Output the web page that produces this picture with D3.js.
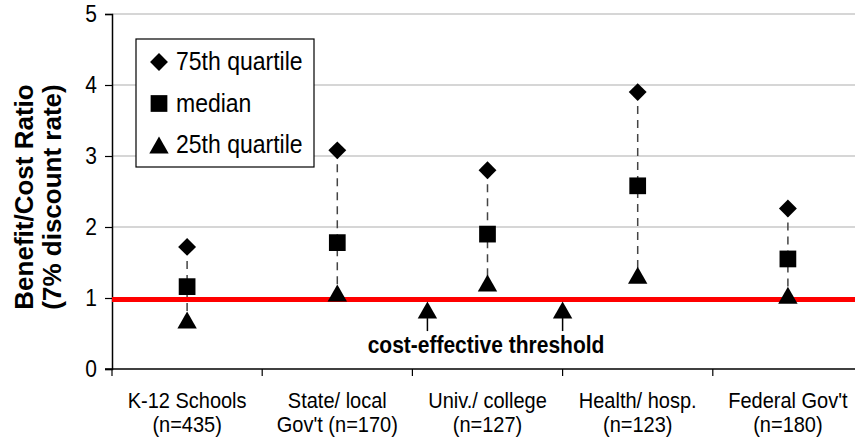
<!DOCTYPE html>
<html>
<head>
<meta charset="utf-8">
<script src="https://cdn.jsdelivr.net/npm/d3@7"></script>
<style>
  body { margin: 0; background: #fff; }
  text { font-family: "Liberation Sans", Arial, sans-serif; fill: #000; }
</style>
</head>
<body>
<div id="root"></div>
<script>
const categories = ["K-12 Schools", "State/ local", "Univ./ college", "Health/ hosp.", "Federal Gov't"];
const subLabels = ["(n=435)", "Gov't (n=170)", "(n=127)", "(n=123)", "(n=180)"];
const q75 = [1.72, 3.08, 2.80, 3.90, 2.26];
const median = [1.16, 1.78, 1.90, 2.58, 1.55];
const q25 = [0.69, 1.07, 1.21, 1.32, 1.04];
const yTicks = [0, 1, 2, 3, 4, 5];
const threshold = 0.98;
const arrowAt = [2.1, 3.0]; // in category units from the left
const arrowTip = 0.83;

const width = 855, height = 442;
const plotLeft = 112, plotRight = 863, plotTop = 14, plotBottom = 369;
const stretch = 1.13; // glyphs in the source are a little taller than Arial

const svg = d3.select("#root").append("svg")
    .attr("width", width)
    .attr("height", height);

const x = d3.scaleBand().domain(categories).range([plotLeft, plotRight]).padding(0);
const xi = d3.scaleLinear().domain([0, categories.length]).range([plotLeft, plotRight]);
const y = d3.scaleLinear().domain([0, 5]).range([plotBottom, plotTop]);

// gridlines
svg.append("g")
  .selectAll("line")
  .data(yTicks.filter(d => d > 0))
  .join("line")
    .attr("x1", plotLeft).attr("x2", width)
    .attr("y1", d => y(d)).attr("y2", d => y(d))
    .attr("stroke", "#c8c8c8")
    .attr("stroke-width", 1.5);

// y axis
const yAxis = svg.append("g")
    .attr("transform", `translate(${plotLeft},0)`)
    .call(d3.axisLeft(y).tickValues(yTicks).tickSize(7).tickPadding(8).tickFormat(d3.format("d")));
yAxis.select(".domain").attr("stroke", "#000").attr("stroke-width", 1.5);
yAxis.selectAll(".tick line").attr("stroke", "#000").attr("stroke-width", 1.2);
yAxis.selectAll("text")
    .attr("font-size", 21)
    .attr("font-family", "Liberation Sans, Arial, sans-serif")
    .attr("transform", `scale(1,${stretch})`);

// x axis
const xAxis = svg.append("g")
    .attr("transform", `translate(0,${plotBottom})`);
xAxis.append("line")
    .attr("x1", plotLeft - 7).attr("x2", width)
    .attr("stroke", "#000").attr("stroke-width", 1.5);
xAxis.selectAll(".xtick")
  .data(d3.range(categories.length + 1))
  .join("line")
    .attr("class", "xtick")
    .attr("x1", d => xi(d)).attr("x2", d => xi(d))
    .attr("y1", 0).attr("y2", 7)
    .attr("stroke", "#000").attr("stroke-width", 1.2);

const labels = svg.append("g").selectAll("text")
  .data(categories)
  .join("text")
    .attr("transform", d => `translate(${x(d) + x.bandwidth() / 2},408) scale(1,${stretch})`)
    .attr("text-anchor", "middle")
    .attr("font-size", 20);
labels.append("tspan").text(d => d);
labels.append("tspan")
    .attr("x", 0)
    .attr("dy", 24 / stretch)
    .text((d, i) => subLabels[i]);

// y title
svg.append("text")
    .attr("transform", "translate(33,197) rotate(-90)")
    .attr("text-anchor", "middle")
    .attr("font-size", 26)
    .attr("font-weight", "bold")
    .text("Benefit/Cost Ratio");
svg.append("text")
    .attr("transform", "translate(61,197) rotate(-90)")
    .attr("text-anchor", "middle")
    .attr("font-size", 26)
    .attr("font-weight", "bold")
    .text("(7% discount rate)");

// red threshold line
svg.append("line")
    .attr("x1", plotLeft).attr("x2", width)
    .attr("y1", y(threshold)).attr("y2", y(threshold))
    .attr("stroke", "#ff0000")
    .attr("stroke-width", 5);

const cx = i => x(categories[i]) + x.bandwidth() / 2;

// dashed range lines
svg.append("g").selectAll("line")
  .data(categories)
  .join("line")
    .attr("x1", (d, i) => cx(i)).attr("x2", (d, i) => cx(i))
    .attr("y1", (d, i) => y(q75[i])).attr("y2", (d, i) => y(q25[i]))
    .attr("stroke", "#444")
    .attr("stroke-width", 1.5)
    .attr("stroke-dasharray", "8,6");

const diamond = d3.symbol().type(d3.symbolSquare).size(160);
const square = d3.symbol().type(d3.symbolSquare).size(280);
const tri = s => `M0,${-s * 0.5}L${s * 0.57},${s * 0.5}L${-s * 0.57},${s * 0.5}Z`;

const series = [
  { name: "75th quartile", values: q75, path: diamond(), rot: 45 },
  { name: "median", values: median, path: square(), rot: 0 },
  { name: "25th quartile", values: q25, path: tri(17), rot: 0 }
];

series.forEach(s => {
  svg.append("g").selectAll("path")
    .data(s.values)
    .join("path")
      .attr("d", s.path)
      .attr("transform", (d, i) => `translate(${cx(i)},${y(d)}) rotate(${s.rot})`)
      .attr("fill", "#000");
});

// threshold arrows
const arrows = svg.append("g").selectAll("g")
  .data(arrowAt)
  .join("g")
    .attr("transform", d => `translate(${xi(d)},${y(arrowTip)})`);
arrows.append("path").attr("d", tri(17)).attr("fill", "#000");
arrows.append("line")
    .attr("y1", 8).attr("y2", 21)
    .attr("stroke", "#000").attr("stroke-width", 1.5);

svg.append("text")
    .attr("transform", `translate(486,353) scale(1,${stretch})`)
    .attr("text-anchor", "middle")
    .attr("font-size", 21)
    .attr("font-weight", "bold")
    .text("cost-effective threshold");

// legend
const legend = svg.append("g").attr("transform", "translate(136,39)");
legend.append("rect")
    .attr("width", 178).attr("height", 128)
    .attr("fill", "#fff")
    .attr("stroke", "#000").attr("stroke-width", 1.2);
const items = legend.selectAll(".item")
  .data(series)
  .join("g")
    .attr("class", "item")
    .attr("transform", (d, i) => `translate(23,${23 + i * 41.5})`);
items.append("path")
    .attr("d", d => d.path)
    .attr("transform", d => `rotate(${d.rot})`)
    .attr("fill", "#000");
items.append("text")
    .attr("transform", `translate(17,8) scale(1,${stretch})`)
    .attr("font-size", 23)
    .text(d => d.name);
</script>
</body>
</html>
